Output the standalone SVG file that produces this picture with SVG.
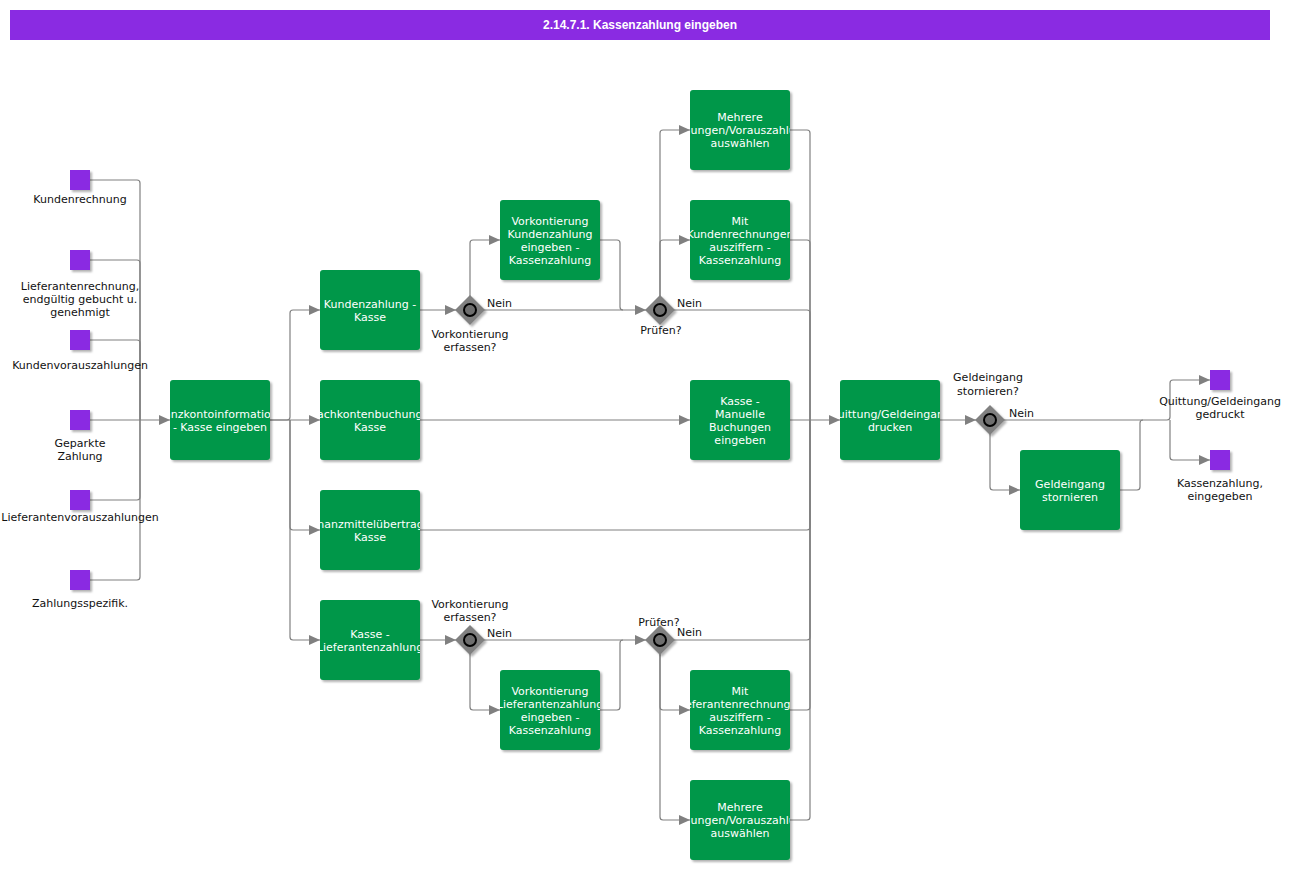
<svg xmlns="http://www.w3.org/2000/svg" width="1293" height="870" viewBox="0 0 1293 870">
<style>
.t{font-family:"DejaVu Sans",Verdana,sans-serif;font-size:11px;text-anchor:middle}
.bt{fill:#ffffff}
.lb{fill:#111111}
.box{fill:#009748;filter:url(#sh)}
.ev{fill:#8a2be2;filter:url(#sh)}
.gw{fill:#808080;filter:url(#sh)}
.gc{fill:#6e6e6e;stroke:#000;stroke-width:2}
.c{fill:none;stroke:#808080;stroke-width:1.2}
.a{marker-end:url(#arr)}
</style>
<defs>
<filter id="sh" x="-10%" y="-10%" width="130%" height="130%">
<feDropShadow dx="2" dy="2" stdDeviation="1.2" flood-color="#000" flood-opacity="0.3"/>
</filter>
<marker id="arr" markerUnits="userSpaceOnUse" markerWidth="12" markerHeight="10" refX="11" refY="5" orient="auto">
<path d="M0,0 L11,5 L0,10 z" fill="#808080"/>
</marker>
</defs>
<rect x="0" y="0" width="1293" height="870" fill="#ffffff"/>
<g id="title">
<rect x="10" y="10" width="1260" height="30" fill="#8a2be2"/>
<text x="640" y="29" font-family="'Liberation Sans',Arial,sans-serif" font-size="12" font-weight="bold" fill="#ffffff" text-anchor="middle">2.14.7.1. Kassenzahlung eingeben</text>
</g>
<g id="connectors">
<path class="c" d="M90,180 H137 Q140,180 140,183 V420"/>
<path class="c" d="M90,260 H137 Q140,260 140,263 V420"/>
<path class="c" d="M90,340 H137 Q140,340 140,343 V420"/>
<path class="c" d="M90,500 H137 Q140,500 140,497 V420"/>
<path class="c" d="M90,580 H137 Q140,580 140,577 V420"/>
<path class="c a" d="M90,420 H170"/>
<path class="c a" d="M270,420 H287 Q290,420 290,417 V313 Q290,310 293,310 H320"/>
<path class="c a" d="M270,420 H320"/>
<path class="c a" d="M290,420 V527 Q290,530 293,530 H320"/>
<path class="c a" d="M290,420 V637 Q290,640 293,640 H320"/>
<path class="c a" d="M420,310 H456"/>
<path class="c a" d="M470,296 V243 Q470,240 473,240 H500"/>
<path class="c a" d="M484,310 H646"/>
<path class="c" d="M600,240 H617 Q620,240 620,243 V307 Q620,310 623,310"/>
<path class="c a" d="M660,296 V133 Q660,130 663,130 H690"/>
<path class="c a" d="M660,296 V243 Q660,240 663,240 H690"/>
<path class="c" d="M674,310 H807 Q810,310 810,313 V420"/>
<path class="c" d="M790,130 H807 Q810,130 810,133 V420"/>
<path class="c" d="M790,240 H807 Q810,240 810,243 V420"/>
<path class="c a" d="M420,420 H690"/>
<path class="c a" d="M790,420 H840"/>
<path class="c" d="M420,530 H807 Q810,530 810,527 V420"/>
<path class="c" d="M674,640 H807 Q810,640 810,637 V420"/>
<path class="c" d="M790,710 H807 Q810,710 810,707 V420"/>
<path class="c" d="M790,820 H807 Q810,820 810,817 V420"/>
<path class="c a" d="M420,640 H456"/>
<path class="c a" d="M470,654 V707 Q470,710 473,710 H500"/>
<path class="c a" d="M484,640 H646"/>
<path class="c" d="M600,710 H617 Q620,710 620,707 V643 Q620,640 623,640"/>
<path class="c a" d="M660,654 V707 Q660,710 663,710 H690"/>
<path class="c a" d="M660,654 V817 Q660,820 663,820 H690"/>
<path class="c a" d="M940,420 H976"/>
<path class="c a" d="M990,434 V487 Q990,490 993,490 H1020"/>
<path class="c" d="M1120,490 H1137 Q1140,490 1140,487 V423 Q1140,420 1143,420"/>
<path class="c a" d="M1004,420 H1167 Q1170,420 1170,417 V383 Q1170,380 1173,380 H1210"/>
<path class="c a" d="M1170,420 V457 Q1170,460 1173,460 H1210"/>
</g>
<g id="ev1"><rect class="ev" x="70" y="170" width="20" height="20"/><text class="t lb" x="80" y="203">Kundenrechnung</text></g>
<g id="ev2"><rect class="ev" x="70" y="250" width="20" height="20"/><text class="t lb" x="80" y="290">Lieferantenrechnung,</text><text class="t lb" x="80" y="303">endgültig gebucht u.</text><text class="t lb" x="80" y="316">genehmigt</text></g>
<g id="ev3"><rect class="ev" x="70" y="330" width="20" height="20"/><text class="t lb" x="80" y="369">Kundenvorauszahlungen</text></g>
<g id="ev4"><rect class="ev" x="70" y="410" width="20" height="20"/><text class="t lb" x="80" y="447">Geparkte</text><text class="t lb" x="80" y="460">Zahlung</text></g>
<g id="ev5"><rect class="ev" x="70" y="490" width="20" height="20"/><text class="t lb" x="80" y="521">Lieferantenvorauszahlungen</text></g>
<g id="ev6"><rect class="ev" x="70" y="570" width="20" height="20"/><text class="t lb" x="80" y="607">Zahlungsspezifik.</text></g>
<g id="ev7"><rect class="ev" x="1210" y="370" width="20" height="20"/><text class="t lb" x="1220" y="405">Quittung/Geldeingang</text><text class="t lb" x="1220" y="418">gedruckt</text></g>
<g id="ev8"><rect class="ev" x="1210" y="450" width="20" height="20"/><text class="t lb" x="1220" y="487">Kassenzahlung,</text><text class="t lb" x="1220" y="500">eingegeben</text></g>
<g id="n_finanzkonto"><rect class="box" x="170" y="380" width="100" height="80" rx="3"/><svg x="170" y="380" width="100" height="80"><text class="t bt" x="50" y="37.5">Finanzkontoinformationen</text><text class="t bt" x="50" y="50.5">- Kasse eingeben</text></svg></g>
<g id="n_kundenzahlung"><rect class="box" x="320" y="270" width="100" height="80" rx="3"/><svg x="320" y="270" width="100" height="80"><text class="t bt" x="50" y="37.5">Kundenzahlung -</text><text class="t bt" x="50" y="50.5">Kasse</text></svg></g>
<g id="n_sachkonten"><rect class="box" x="320" y="380" width="100" height="80" rx="3"/><svg x="320" y="380" width="100" height="80"><text class="t bt" x="50" y="37.5">Sachkontenbuchung -</text><text class="t bt" x="50" y="50.5">Kasse</text></svg></g>
<g id="n_finanzmittel"><rect class="box" x="320" y="490" width="100" height="80" rx="3"/><svg x="320" y="490" width="100" height="80"><text class="t bt" x="50" y="37.5">Finanzmittelübertrag -</text><text class="t bt" x="50" y="50.5">Kasse</text></svg></g>
<g id="n_kasselief"><rect class="box" x="320" y="600" width="100" height="80" rx="3"/><svg x="320" y="600" width="100" height="80"><text class="t bt" x="50" y="37.5">Kasse -</text><text class="t bt" x="50" y="50.5">Lieferantenzahlung</text></svg></g>
<g id="n_vorkkund"><rect class="box" x="500" y="200" width="100" height="80" rx="3"/><svg x="500" y="200" width="100" height="80"><text class="t bt" x="50" y="24.5">Vorkontierung</text><text class="t bt" x="50" y="37.5">Kundenzahlung</text><text class="t bt" x="50" y="50.5">eingeben -</text><text class="t bt" x="50" y="63.5">Kassenzahlung</text></svg></g>
<g id="n_vorklief"><rect class="box" x="500" y="670" width="100" height="80" rx="3"/><svg x="500" y="670" width="100" height="80"><text class="t bt" x="50" y="24.5">Vorkontierung</text><text class="t bt" x="50" y="37.5">Lieferantenzahlung</text><text class="t bt" x="50" y="50.5">eingeben -</text><text class="t bt" x="50" y="63.5">Kassenzahlung</text></svg></g>
<g id="n_mehrere1"><rect class="box" x="690" y="90" width="100" height="80" rx="3"/><svg x="690" y="90" width="100" height="80"><text class="t bt" x="50" y="31">Mehrere</text><text class="t bt" x="50" y="44">Rechnungen/Vorauszahlungen</text><text class="t bt" x="50" y="57">auswählen</text></svg></g>
<g id="n_mitkund"><rect class="box" x="690" y="200" width="100" height="80" rx="3"/><svg x="690" y="200" width="100" height="80"><text class="t bt" x="50" y="24.5">Mit</text><text class="t bt" x="50" y="37.5">Kundenrechnungen</text><text class="t bt" x="50" y="50.5">ausziffern -</text><text class="t bt" x="50" y="63.5">Kassenzahlung</text></svg></g>
<g id="n_manuell"><rect class="box" x="690" y="380" width="100" height="80" rx="3"/><svg x="690" y="380" width="100" height="80"><text class="t bt" x="50" y="24.5">Kasse -</text><text class="t bt" x="50" y="37.5">Manuelle</text><text class="t bt" x="50" y="50.5">Buchungen</text><text class="t bt" x="50" y="63.5">eingeben</text></svg></g>
<g id="n_mitlief"><rect class="box" x="690" y="670" width="100" height="80" rx="3"/><svg x="690" y="670" width="100" height="80"><text class="t bt" x="50" y="24.5">Mit</text><text class="t bt" x="50" y="37.5">Lieferantenrechnungen</text><text class="t bt" x="50" y="50.5">ausziffern -</text><text class="t bt" x="50" y="63.5">Kassenzahlung</text></svg></g>
<g id="n_mehrere2"><rect class="box" x="690" y="780" width="100" height="80" rx="3"/><svg x="690" y="780" width="100" height="80"><text class="t bt" x="50" y="31">Mehrere</text><text class="t bt" x="50" y="44">Rechnungen/Vorauszahlungen</text><text class="t bt" x="50" y="57">auswählen</text></svg></g>
<g id="n_quittung"><rect class="box" x="840" y="380" width="100" height="80" rx="3"/><svg x="840" y="380" width="100" height="80"><text class="t bt" x="50" y="37.5">Quittung/Geldeingang</text><text class="t bt" x="50" y="50.5">drucken</text></svg></g>
<g id="n_storno"><rect class="box" x="1020" y="450" width="100" height="80" rx="3"/><svg x="1020" y="450" width="100" height="80"><text class="t bt" x="50" y="37.5">Geldeingang</text><text class="t bt" x="50" y="50.5">stornieren</text></svg></g>
<g id="g1"><path class="gw" d="M470,295 L485,310 L470,325 L455,310 z"/><circle class="gc" cx="470" cy="310" r="6"/><text class="t lb" x="470" y="338">Vorkontierung</text><text class="t lb" x="470" y="351">erfassen?</text><text class="t lb" x="487" y="307" text-anchor="start" style="text-anchor:start">Nein</text></g>
<g id="g2"><path class="gw" d="M660,295 L675,310 L660,325 L645,310 z"/><circle class="gc" cx="660" cy="310" r="6"/><text class="t lb" x="661" y="334">Prüfen?</text><text class="t lb" x="677" y="307" style="text-anchor:start">Nein</text></g>
<g id="g3"><path class="gw" d="M470,625 L485,640 L470,655 L455,640 z"/><circle class="gc" cx="470" cy="640" r="6"/><text class="t lb" x="470" y="608">Vorkontierung</text><text class="t lb" x="470" y="621">erfassen?</text><text class="t lb" x="487" y="637" style="text-anchor:start">Nein</text></g>
<g id="g4"><path class="gw" d="M660,625 L675,640 L660,655 L645,640 z"/><circle class="gc" cx="660" cy="640" r="6"/><text class="t lb" x="659" y="626">Prüfen?</text><text class="t lb" x="677" y="636" style="text-anchor:start">Nein</text></g>
<g id="g5"><path class="gw" d="M990,405 L1005,420 L990,435 L975,420 z"/><circle class="gc" cx="990" cy="420" r="6"/><text class="t lb" x="988" y="381">Geldeingang</text><text class="t lb" x="988" y="395">stornieren?</text><text class="t lb" x="1009" y="417" style="text-anchor:start">Nein</text></g>
</svg>
